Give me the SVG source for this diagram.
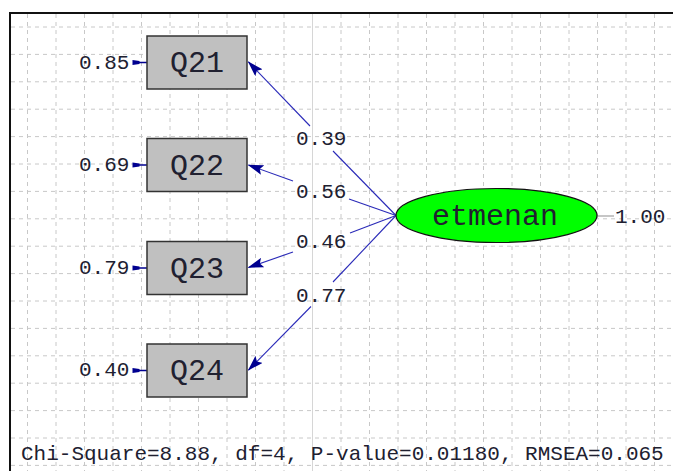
<svg xmlns="http://www.w3.org/2000/svg" width="673" height="471" viewBox="0 0 673 471">
<style>
.grid{stroke:#c8c8c8;stroke-width:1;stroke-dasharray:4,4;fill:none}
.box{fill:#c0c0c0;stroke:#333333;stroke-width:1.5}
.lbl{font-family:"Liberation Mono","Courier New",monospace;fill:#202030}
.node{font-size:30px;text-anchor:middle}
.small{font-size:21px}
.path{stroke:#2a2ab8;stroke-width:1.1;fill:none}
.err{stroke:#000090;stroke-width:1.5;fill:none}
</style>
<defs>
<marker id="ah" viewBox="0 0 16 10" refX="15" refY="5" markerWidth="16" markerHeight="10" markerUnits="userSpaceOnUse" orient="auto">
<path d="M0,0 L16,5 L0,10 L3,5 Z" fill="#000090"/>
</marker>
</defs>
<rect x="0" y="0" width="673" height="471" fill="#ffffff"/>
<g id="grid">
<path class="grid" d="M27.5,14V471M56,14V471M84.5,14V471M113,14V471M141.5,14V471M170,14V471M198.5,14V471M227,14V471M255.5,14V471M284,14V471M341,14V471M369.5,14V471M398,14V471M426.5,14V471M455,14V471M483.5,14V471M512,14V471M540.5,14V471M569,14V471M597.5,14V471M626,14V471M654.5,14V471"/>
<path d="M312.5,14V471" stroke="#d6d6d6" stroke-width="1" fill="none"/>
<path class="grid" d="M11,27H673M11,54.4H673M11,81.8H673M11,109.2H673M11,136.6H673M11,164H673M11,191.4H673M11,218.8H673M11,246.2H673M11,273.6H673M11,301H673M11,328.4H673M11,355.8H673M11,383.2H673M11,410.6H673M11,438H673M11,465.4H673"/>
</g>
<path d="M10,471V13H673" stroke="#111111" stroke-width="2" fill="none"/>
<g id="connectors">
<path class="path" d="M396,215.5 L333,151"/>
<path class="path" d="M310,126 L248.5,62" marker-end="url(#ah)"/>
<path class="path" d="M396,215.5 L349,199"/>
<path class="path" d="M293,181 L248.5,165" marker-end="url(#ah)"/>
<path class="path" d="M396,215.5 L350,233"/>
<path class="path" d="M293,252 L248.5,267.5" marker-end="url(#ah)"/>
<path class="path" d="M396,215.5 L333,282"/>
<path class="path" d="M311,306.5 L248.5,370" marker-end="url(#ah)"/>
<g class="err">
<path d="M139,62.5H147M139,165H147M139,268H147M139,370.5H147"/>
</g>
<g fill="#000090">
<path d="M132.5,60 L139.5,61 L139.5,64 L132.5,65 Z"/>
<path d="M132.5,162.5 L139.5,163.5 L139.5,166.5 L132.5,167.5 Z"/>
<path d="M132.5,265.5 L139.5,266.5 L139.5,269.5 L132.5,270.5 Z"/>
<path d="M132.5,368 L139.5,369 L139.5,372 L132.5,373 Z"/>
</g>
<path d="M597,216H614" stroke="#a0a0a0" stroke-width="1.2" fill="none"/>
</g>
<g id="Q21">
<rect class="box" x="147" y="36" width="100" height="53"/>
<text class="lbl node" x="197" y="72">Q21</text>
<text class="lbl small" x="79" y="68.5">0.85</text>
</g>
<g id="Q22">
<rect class="box" x="147" y="138.5" width="100" height="53"/>
<text class="lbl node" x="197" y="174.5">Q22</text>
<text class="lbl small" x="79" y="171">0.69</text>
</g>
<g id="Q23">
<rect class="box" x="147" y="241.5" width="100" height="53"/>
<text class="lbl node" x="197" y="277.5">Q23</text>
<text class="lbl small" x="79" y="273.5">0.79</text>
</g>
<g id="Q24">
<rect class="box" x="147" y="344" width="100" height="53"/>
<text class="lbl node" x="197" y="380">Q24</text>
<text class="lbl small" x="79" y="376">0.40</text>
</g>
<g id="etmenan">
<ellipse cx="496.5" cy="215.5" rx="100.5" ry="27" fill="#00ff00" stroke="#111111" stroke-width="1.2"/>
<text class="lbl node" x="495" y="225">etmenan</text>
<text class="lbl small" x="615" y="222.5">1.00</text>
</g>
<g id="loadings">
<text class="lbl small" x="296" y="145">0.39</text>
<text class="lbl small" x="296" y="197.5">0.56</text>
<text class="lbl small" x="296" y="247.5">0.46</text>
<text class="lbl small" x="296" y="301.5">0.77</text>
</g>
<text class="lbl small" x="21" y="460">Chi-Square=8.88, df=4, P-value=0.01180, RMSEA=0.065</text>
</svg>
